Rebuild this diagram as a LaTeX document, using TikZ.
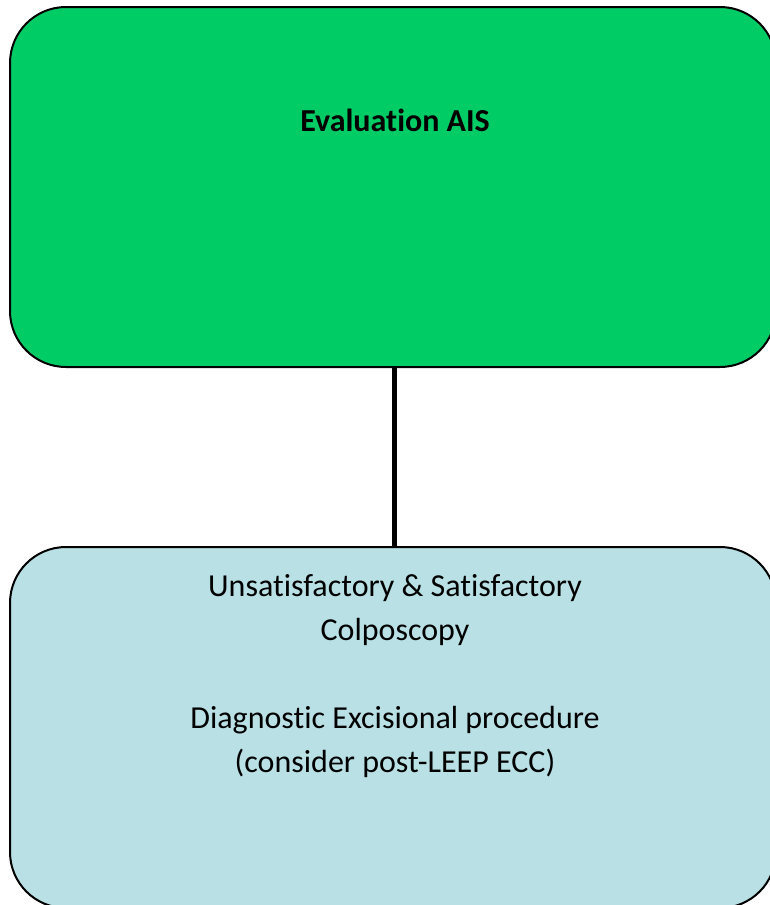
\documentclass[tikz,border=0pt]{standalone}
\usepackage{fontspec}
\setmainfont{Carlito}[Ligatures=NoCommon]
\definecolor{evalgreen}{RGB}{0,204,102}
\definecolor{procblue}{RGB}{185,224,228}
\begin{document}
\begin{tikzpicture}[x=1pt,y=-1pt,
  panel/.style={draw=black, line width=2pt, rounded corners=56pt},
  link/.style={draw=black, line width=5pt},
  txt/.style={font=\fontsize{32}{44}\selectfont, align=center, inner sep=0pt}]
  \useasboundingbox (0,0) rectangle (770,905);
  \begin{scope}
    \clip (0,0) rectangle (770,905);
    % top panel
    \path[panel, fill=evalgreen] (10,7) rectangle (776,367);
    \coordinate (evalbot) at (394,367);
    % bottom panel
    \path[panel, fill=procblue] (10,547) rectangle (776,908);
    \coordinate (proctop) at (394,547);
  \end{scope}
  \node[txt, font=\fontsize{32}{44}\selectfont\bfseries] (eval) at (395,120) {Evaluation AIS};
  \node[txt] (proc) at (395,676) {Unsatisfactory \& Satisfactory\\Colposcopy\\[44pt]Diagnostic Excisional procedure\\(consider post-LEEP ECC)};
  \draw[link] (evalbot) -- (proctop);
\end{tikzpicture}
\end{document}
